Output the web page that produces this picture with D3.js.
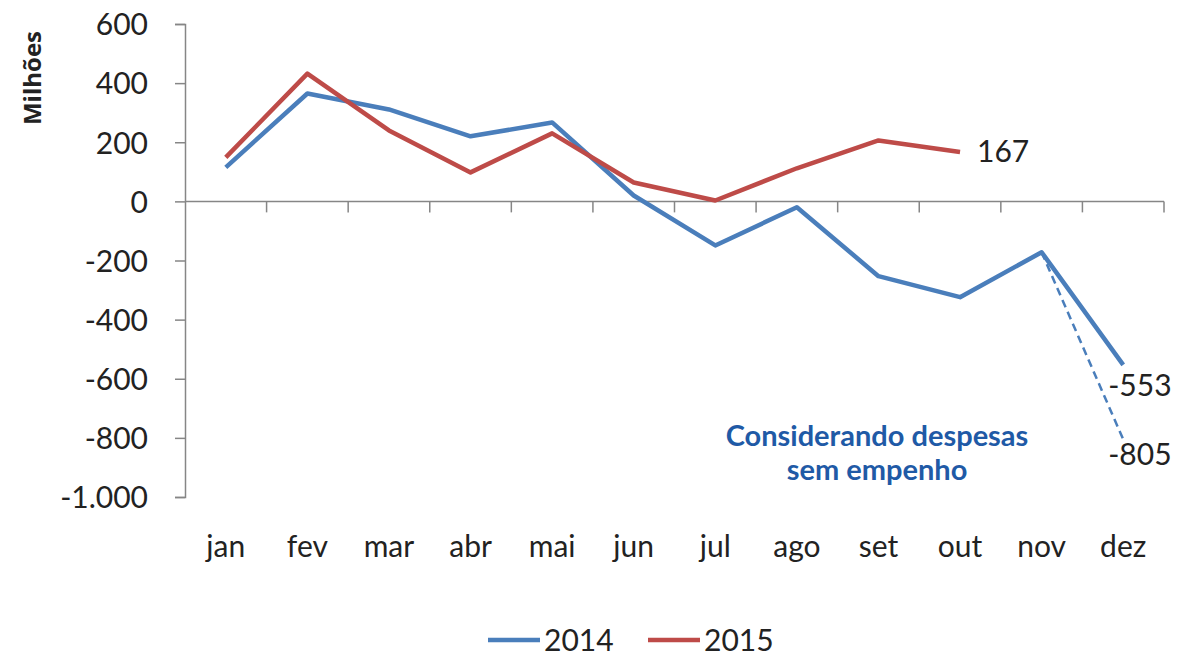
<!DOCTYPE html>
<head>
    <meta charset="utf-8">
    <title>Resultado mensal 2014 x 2015</title>
    <style>
        body { margin: 0; background: #fff; }
        text { font-family: Lato, "Open Sans", sans-serif; fill: #222; }
    </style>
</head>
<body>

<svg width="1191" height="656"></svg>

<script src="https://d3js.org/d3.v7.min.js"></script>

<script>

// dados (milhões)
var meses = ['jan', 'fev', 'mar', 'abr', 'mai', 'jun', 'jul', 'ago', 'set', 'out', 'nov', 'dez'];
var serie2014 = [115, 365, 311, 220, 267, 20, -149, -20, -253, -324, -172, -553];
var serie2015 = [149, 432, 240, 98, 230, 64, 3, 112, 206, 167];
var semEmpenho = [{ mes: 'nov', v: -172 }, { mes: 'dez', v: -805 }];
var yTicks = [600, 400, 200, 0, -200, -400, -600, -800, -1000];

var svg = d3.select('svg');

var x = d3.scaleBand()
    .domain(meses)
    .range([185, 1164]);

var y = d3.scaleLinear()
    .domain([-1000, 600])
    .range([497, 24]);

// formato brasileiro, hífen simples
var fmt = d => d3.format(',')(d).replace(/,/g, '.').replace('\u2212', '-');

// eixo y
var yAxis = svg.append('g')
    .attr('transform', 'translate(185,0)')
    .call(d3.axisLeft(y).tickValues(yTicks).tickSize(10).tickPadding(27).tickFormat(fmt));
yAxis.select('.domain').attr('stroke', '#868686').attr('stroke-width', 1.5);
yAxis.selectAll('.tick line').attr('stroke', '#868686').attr('stroke-width', 1.5);
yAxis.selectAll('.tick text')
    .style('font-size', '30px')
    .attr('fill', '#222')
    .attr('dy', '0.36em');

// linha do zero + marcas entre meses
var zero = svg.append('g');
zero.append('line')
    .attr('x1', 185).attr('x2', 1164)
    .attr('y1', y(0)).attr('y2', y(0))
    .attr('stroke', '#868686').attr('stroke-width', 1.5);
zero.selectAll('.xt')
    .data(meses.slice(1).map(m => x(m)).concat([x.range()[1]]))
    .enter().append('line')
        .attr('class', 'xt')
        .attr('x1', d => d).attr('x2', d => d)
        .attr('y1', y(0)).attr('y2', y(0) + 11)
        .attr('stroke', '#868686').attr('stroke-width', 1.5);

// rótulos dos meses
svg.selectAll('.mes')
    .data(meses)
    .enter().append('text')
        .attr('class', 'mes')
        .attr('x', d => x(d) + x.bandwidth() / 2)
        .attr('y', 557)
        .attr('text-anchor', 'middle')
        .style('font-size', '30px')
        .text(d => d);

// título do eixo
svg.append('text')
    .attr('transform', 'translate(41,78) rotate(-90)')
    .attr('text-anchor', 'middle')
    .style('font-family', '"Open Sans", Arial, sans-serif')
    .style('font-weight', 'bold')
    .style('font-size', '24px')
    .text('Milhões');

var cx = d => x(d) + x.bandwidth() / 2;
var line = d3.line()
    .x(d => cx(d.mes))
    .y(d => y(d.v));

var azul = '#4A7EBB', vermelho = '#BE4B48';

svg.append('path')
    .datum(semEmpenho)
    .attr('d', line)
    .attr('fill', 'none')
    .attr('stroke', azul)
    .attr('stroke-width', 2.5)
    .attr('stroke-dasharray', '8,5');

svg.append('path')
    .datum(serie2014.map((v, i) => ({ mes: meses[i], v: v })))
    .attr('d', line)
    .attr('fill', 'none')
    .attr('stroke', azul)
    .attr('stroke-width', 4.5)
    .attr('stroke-linejoin', 'round');

svg.append('path')
    .datum(serie2015.map((v, i) => ({ mes: meses[i], v: v })))
    .attr('d', line)
    .attr('fill', 'none')
    .attr('stroke', vermelho)
    .attr('stroke-width', 4.5)
    .attr('stroke-linejoin', 'round');

// rótulos de dados
svg.append('text')
    .attr('x', cx('out') + 17).attr('y', y(167) + 10)
    .style('font-size', '30px')
    .text(fmt(serie2015[9]));
svg.append('text')
    .attr('x', cx('dez') - 15).attr('y', y(-553) + 31)
    .style('font-size', '30px')
    .text(fmt(serie2014[11]));
svg.append('text')
    .attr('x', cx('dez') - 15).attr('y', y(-805) + 26)
    .style('font-size', '30px')
    .text(fmt(semEmpenho[1].v));

// anotação
var nota = svg.append('text')
    .attr('text-anchor', 'middle')
    .style('font-weight', 'bold')
    .style('font-size', '29px')
    .style('fill', '#1F5AA6');
nota.append('tspan').attr('x', 877).attr('y', 446).text('Considerando despesas');
nota.append('tspan').attr('x', 877).attr('y', 480).text('sem empenho');

// legenda
var legenda = svg.append('g');
[['2014', azul, 488], ['2015', vermelho, 648]].forEach(function (d) {
    legenda.append('line')
        .attr('x1', d[2]).attr('x2', d[2] + 52)
        .attr('y1', 640).attr('y2', 640)
        .attr('stroke', d[1]).attr('stroke-width', 4.5);
    legenda.append('text')
        .attr('x', d[2] + 56).attr('y', 651)
        .style('font-size', '30px')
        .text(d[0]);
});

</script>

</body>
